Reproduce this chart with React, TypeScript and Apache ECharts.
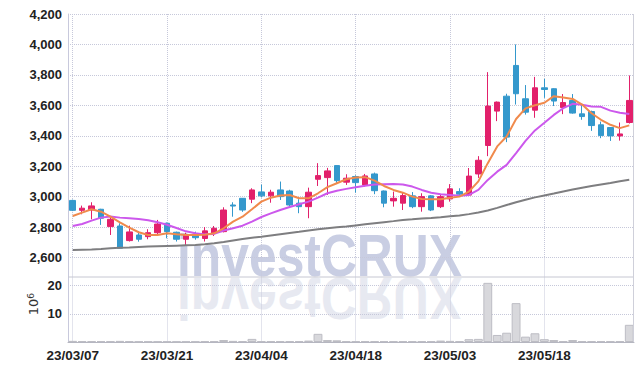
import React, { useEffect, useRef } from 'react';
import * as echarts from 'echarts';

const dates = [
  '23/03/07', '23/03/08', '23/03/09', '23/03/10', '23/03/13', '23/03/14', '23/03/15', '23/03/16', '23/03/17', '23/03/20',
  '23/03/21', '23/03/22', '23/03/23', '23/03/24', '23/03/27', '23/03/28', '23/03/29', '23/03/30', '23/03/31', '23/04/03',
  '23/04/04', '23/04/05', '23/04/06', '23/04/07', '23/04/10', '23/04/11', '23/04/12', '23/04/13', '23/04/14', '23/04/17',
  '23/04/18', '23/04/19', '23/04/20', '23/04/21', '23/04/24', '23/04/25', '23/04/26', '23/04/27', '23/04/28', '23/05/02',
  '23/05/03', '23/05/04', '23/05/08', '23/05/09', '23/05/10', '23/05/11', '23/05/12', '23/05/15', '23/05/16', '23/05/17',
  '23/05/18', '23/05/19', '23/05/22', '23/05/23', '23/05/24', '23/05/25', '23/05/26', '23/05/30', '23/05/31', '23/06/01',
];

const opens = [
  2975, 2910, 2912, 2917, 2803, 2807, 2711, 2748, 2737, 2763,
  2825, 2766, 2720, 2753, 2725, 2759, 2770, 2945, 2989, 2983,
  3031, 3005, 3044, 3037, 2957, 2934, 3114, 3125, 3204, 3095,
  3132, 3077, 3149, 3037, 2972, 2957, 3005, 2934, 3005, 2934,
  2985, 3033, 3010, 3149, 3336, 3562, 3660, 3862, 3643, 3568,
  3715, 3709, 3585, 3632, 3544, 3559, 3472, 3454, 3399, 3487,
];
const closes = [
  2910, 2924, 2939, 2858, 2851, 2661, 2768, 2720, 2763, 2820,
  2770, 2720, 2748, 2730, 2775, 2792, 2912, 2938, 2912, 3044,
  3005, 3029, 3000, 2945, 2934, 3029, 3138, 3169, 3105, 3121,
  3092, 3136, 3039, 2957, 2989, 3007, 2934, 3000, 2912, 3000,
  3051, 3016, 3135, 3239, 3595, 3621, 3391, 3676, 3555, 3715,
  3704, 3628, 3618, 3549, 3526, 3467, 3401, 3399, 3412, 3632,
];
const lows = [
  2905, 2884, 2851, 2814, 2748, 2660, 2705, 2704, 2720, 2753,
  2726, 2705, 2682, 2717, 2705, 2741, 2765, 2868, 2900, 2957,
  2995, 2960, 2978, 2925, 2891, 2858, 3070, 3011, 3088, 3077,
  3026, 3066, 3016, 2930, 2934, 2912, 2924, 2901, 2905, 2925,
  2967, 3000, 3005, 3123, 3266, 3496, 3358, 3605, 3539, 3518,
  3649, 3595, 3542, 3545, 3505, 3432, 3384, 3366, 3368, 3480,
];
const highs = [
  2980, 2941, 2963, 2920, 2868, 2825, 2809, 2770, 2786, 2847,
  2830, 2770, 2763, 2770, 2800, 2807, 2930, 2963, 2990, 3055,
  3079, 3045, 3099, 3045, 2983, 3059, 3220, 3189, 3205, 3147,
  3140, 3149, 3158, 3040, 3033, 3026, 3030, 3022, 3010, 3015,
  3082, 3055, 3188, 3266, 3818, 3625, 3676, 4000, 3733, 3787,
  3774, 3712, 3674, 3674, 3603, 3565, 3493, 3457, 3487, 3796,
];

const ma5 = [
  2873, 2895, 2917, 2901, 2868, 2831, 2796, 2766, 2748, 2748,
  2759, 2753, 2748, 2748, 2750, 2759, 2792, 2836, 2868, 2917,
  2967, 2993, 3007, 3011, 2989, 2989, 3022, 3062, 3088, 3114,
  3125, 3128, 3105, 3070, 3044, 3026, 3000, 2985, 2983, 2983,
  2993, 3000, 3033, 3100, 3220, 3330, 3395, 3510, 3580, 3600,
  3617, 3660, 3651, 3642, 3605, 3548, 3505, 3472, 3450, 3468,
];
const ma10 = [
  2807, 2820, 2842, 2862, 2870, 2862, 2858, 2853, 2845, 2832,
  2815, 2794, 2772, 2760, 2752, 2755, 2777, 2792, 2809, 2836,
  2866, 2890, 2912, 2932, 2950, 2967, 2993, 3022, 3039, 3051,
  3062, 3072, 3079, 3081, 3083, 3080, 3066, 3044, 3026, 3016,
  3011, 3006, 3011, 3044, 3110, 3164, 3209, 3286, 3366, 3435,
  3485, 3537, 3581, 3610, 3603, 3592, 3590, 3565, 3551, 3543,
];
const maLong = [
  2649, 2651, 2653, 2656, 2660, 2664, 2666, 2669, 2672, 2674,
  2676, 2678, 2680, 2682, 2687, 2693, 2702, 2712, 2722, 2730,
  2737, 2745, 2753, 2761, 2769, 2778, 2785, 2792, 2798, 2804,
  2811, 2818, 2825, 2832, 2839, 2847, 2851, 2857, 2860, 2865,
  2871, 2876, 2885, 2896, 2909, 2926, 2945, 2963, 2980, 2995,
  3008, 3020, 3034, 3047, 3059, 3070, 3080, 3090, 3101, 3111,
];

// volume in millions (10^6)
const volumes = [
  0.4, 0.3, 0.3, 0.3, 0.3, 0.4, 0.3, 0.2, 0.2, 0.2,
  0.2, 0.2, 0.2, 0.2, 0.3, 0.3, 0.7, 0.4, 0.3, 1.1,
  0.3, 0.3, 0.3, 0.3, 0.3, 0.5, 2.9, 0.7, 0.6, 0.3,
  0.3, 0.3, 0.3, 0.3, 0.3, 0.3, 0.3, 0.3, 0.3, 0.5,
  0.4, 0.3, 1.0, 1.1, 21.0, 2.5, 3.3, 13.8, 1.9, 3.1,
  1.0, 0.7, 0.3, 0.7, 0.3, 0.3, 0.3, 0.3, 0.3, 6.1,
];

const priceTicks = [2600, 4200, 200];
const volumeTickLabels = [10, 20];

const UP = '#e2206b';
const DOWN = '#3498cc';
const GRID_LINE = '#c6c8da';
const LABEL_FONT = "'Liberation Sans', Arial, sans-serif";
const WATERMARK_FONT = "bold 60px 'Liberation Sans', Arial, sans-serif";

export default function App() {
  const ref = useRef<HTMLDivElement>(null);
  useEffect(() => {
    if (!ref.current) return;
    const chart = echarts.init(ref.current, undefined, { renderer: 'svg' });
    const candleData = opens.map((o, i) => [o, closes[i], lows[i], highs[i]]);
    const split = { show: true, lineStyle: { color: GRID_LINE, type: 'dotted' as const, width: 1 } };
    const left = 68;
    const right = 8;
    chart.setOption({
      animation: false,
      backgroundColor: '#ffffff',
      grid: [
        { left, right, top: 14, height: 243.5 },
        { left, right, top: 257.5, height: 84.5 },
      ],
      graphic: [
        {
          type: 'text', x: 177, y: 255, scaleX: 0.83, z: 0, silent: true,
          style: { text: 'investCRUX', fill: '#c9cee3', font: WATERMARK_FONT, textAlign: 'left', textVerticalAlign: 'middle' },
        },
        {
          type: 'text', x: 177, y: 299, scaleX: 0.83, scaleY: -1, z: 0, silent: true,
          style: { text: 'investCRUX', fill: '#e7e9f1', font: WATERMARK_FONT, textAlign: 'left', textVerticalAlign: 'middle' },
        },
        {
          type: 'line', z: 5, silent: true,
          shape: { x1: left, y1: 277, x2: 642 - right, y2: 277 },
          style: { stroke: '#c6c7d2', lineWidth: 1 },
        },
        {
          type: 'line', z: 5, silent: true,
          shape: { x1: 642 - right - 0.5, y1: 14, x2: 642 - right - 0.5, y2: 342 },
          style: { stroke: '#cfd0da', lineWidth: 1 },
        },
        {
          type: 'group', x: 33, y: 307, rotation: Math.PI / 2, silent: true,
          children: [
            { type: 'text', x: 0, y: 0, style: { text: '10', fill: '#333', font: "13px 'DejaVu Sans', sans-serif", textAlign: 'center', textVerticalAlign: 'middle' } },
            { type: 'text', x: 11, y: -2, style: { text: '6', fill: '#333', font: "9px 'DejaVu Sans', sans-serif", textAlign: 'center', textVerticalAlign: 'middle' } },
          ],
        },
      ],
      xAxis: [
        {
          type: 'category', gridIndex: 0, data: dates, boundaryGap: true,
          axisLine: { show: false }, axisTick: { show: false }, axisLabel: { show: false },
          splitLine: { ...split, interval: 9, alignWithLabel: true },
        },
        {
          type: 'category', gridIndex: 1, data: dates, boundaryGap: true,
          axisLine: { show: true, lineStyle: { color: '#b5b6c0', width: 1 } },
          axisTick: { show: false },
          axisLabel: { interval: 9, margin: 6, color: '#222', fontFamily: LABEL_FONT, fontWeight: 'bold', fontSize: 13.5 },
          splitLine: { ...split, interval: 9, alignWithLabel: true },
        },
      ],
      yAxis: [
        {
          type: 'value', gridIndex: 0, min: priceTicks[0], max: priceTicks[1], interval: priceTicks[2],
          axisLine: { show: true, lineStyle: { color: '#c8c9dc', width: 1 } },
          axisTick: { show: false },
          axisLabel: {
            margin: 6, color: '#222', fontFamily: LABEL_FONT, fontWeight: 'bold', fontSize: 13,
            formatter: (v: number) => v.toLocaleString('en-US'),
          },
          splitLine: split,
        },
        {
          type: 'value', gridIndex: 1, min: 0, max: 30, interval: 10,
          axisLine: { show: true, lineStyle: { color: '#c8c9dc', width: 1 } },
          axisTick: { show: false },
          axisLabel: {
            margin: 6, color: '#222', fontFamily: LABEL_FONT, fontWeight: 'bold', fontSize: 13,
            formatter: (v: number) => (volumeTickLabels.includes(v) ? String(v) : ''),
          },
          splitLine: split,
        },
      ],
      series: [
        {
          type: 'candlestick', xAxisIndex: 0, yAxisIndex: 0, data: candleData, barWidth: 6,
          itemStyle: { color: UP, color0: DOWN, borderColor: UP, borderColor0: DOWN, borderWidth: 1 },
        },
        { type: 'line', xAxisIndex: 0, yAxisIndex: 0, data: maLong, symbol: 'none', lineStyle: { color: '#7e7e80', width: 2 } },
        { type: 'line', xAxisIndex: 0, yAxisIndex: 0, data: ma10, symbol: 'none', lineStyle: { color: '#cc58ec', width: 2 } },
        { type: 'line', xAxisIndex: 0, yAxisIndex: 0, data: ma5, symbol: 'none', lineStyle: { color: '#f08a4c', width: 2 } },
        {
          type: 'bar', xAxisIndex: 1, yAxisIndex: 1, data: volumes, barCategoryGap: '6%',
          itemStyle: { color: '#d8d8dc', borderColor: '#bdbdc4', borderWidth: 1 },
        },
      ],
    });
    return () => chart.dispose();
  }, []);
  return <div ref={ref} style={{ position: 'absolute', left: 0, top: 0, width: 642, height: 371 }} />;
}
